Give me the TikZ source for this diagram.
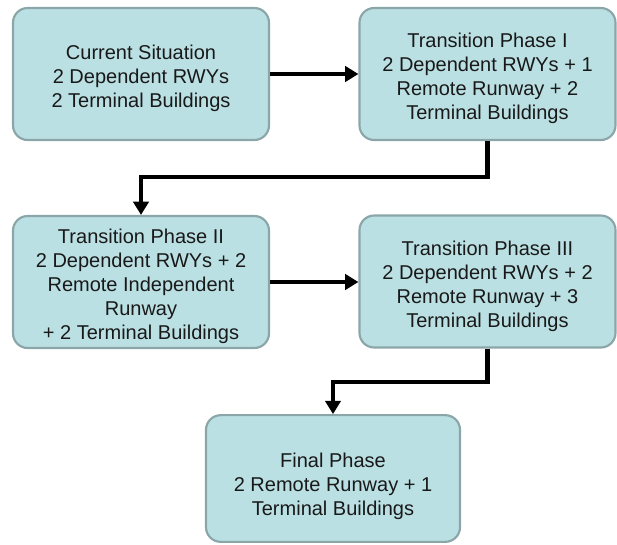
\documentclass[tikz,border=0pt]{standalone}
\usepackage{fontspec}
\setmainfont{Liberation Sans}
\usetikzlibrary{arrows.meta}
\definecolor{boxfill}{HTML}{BBE0E3}
\definecolor{boxline}{HTML}{8AA6A9}
\newcommand\toppad[1]{\rule{0pt}{#1}}
\tikzset{
  phase/.style={draw=boxline, line width=1.6pt, fill=boxfill, rounded corners=11pt,
    minimum width=192pt, minimum height=99pt, align=center, inner sep=2pt,
    font=\fontsize{15pt}{18pt}\selectfont, text=black!90},
  conn/.style={line width=3.3pt, -{Triangle[length=10pt,width=11.5pt]}},
}
\begin{document}
\begin{tikzpicture}[x=0.75pt,y=-0.75pt]
\useasboundingbox (0,0) rectangle (617,544);
\node[phase] (b1) at (141,74) {\toppad{18pt}Current Situation\\2 Dependent RWYs\\2 Terminal Buildings};
\node[phase] (b2) at (487.5,74) {\toppad{18pt}Transition Phase I\\2 Dependent RWYs + 1\\Remote Runway + 2\\Terminal Buildings};
\node[phase] (b3) at (141,282) {\toppad{18pt}Transition Phase II\\2 Dependent RWYs + 2\\Remote Independent\\Runway\\+ 2 Terminal Buildings};
\node[phase] (b4) at (487.5,281.5) {\toppad{18pt}Transition Phase III\\2 Dependent RWYs + 2\\Remote Runway + 3\\Terminal Buildings};
\node[phase, minimum width=190.5pt, minimum height=95pt] (b5) at (333,478.5) {\toppad{23pt}Final Phase\\2 Remote Runway + 1\\Terminal Buildings};
\draw[conn] (b1.east) -- (b2.west);
\draw[conn] (b2.south) -- (b2.south |- 0,177) -| (b3.north);
\draw[conn] (b3.east) -- (b3.east -| b4.west);
\draw[conn] (b4.south) -- (b4.south |- 0,382) -| (b5.north);
\end{tikzpicture}
\end{document}
